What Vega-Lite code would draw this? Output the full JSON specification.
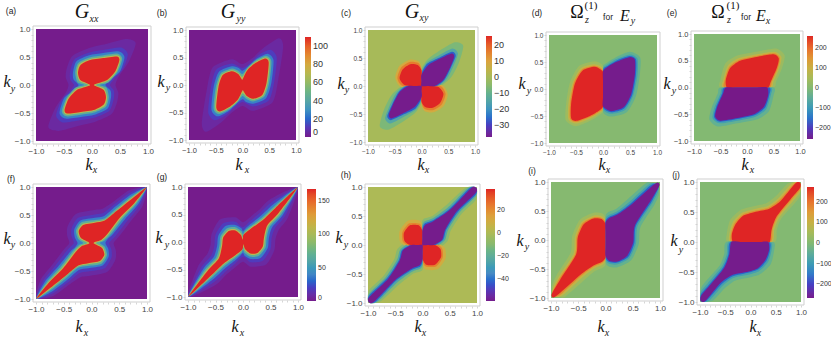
{"$schema":"https://vega.github.io/schema/vega-lite/v6.json","width":831,"height":338,"padding":0,"autosize":{"type":"none"},"background":"white",
"config":{"view":{"stroke":null},"range":{"ramp":["#751c8c","#4340c4","#4a8cc4","#5fa8a0","#86b970","#b4ba52","#dca43e","#e8702e","#df2525"],"heatmap":["#751c8c","#4340c4","#4a8cc4","#5fa8a0","#86b970","#b4ba52","#dca43e","#e8702e","#df2525"]},"axis":{"grid":false,"domain":false,"title":null,"tickCount":20,"tickSize":2,"tickColor":"#c4c4c4","tickWidth":0.7,"labelColor":"#444444","labelFont":"Liberation Sans","labelPadding":1,"labelOverlap":false,"labelBound":false,"labelFlush":false},"legend":{"title":null,"orient":"none","direction":"vertical","gradientStrokeWidth":0,"labelFont":"Liberation Sans","labelColor":"#333333","labelOffset":3}},
"datasets":{"bands":[
{"p":"a","b":"1","v":5,"xy":[[-0.42,0],[-0.47,0.14],[-0.45,0.3],[-0.35,0.52],[-0.05,0.66],[0.25,0.73],[0.6,0.82],[0.78,0.75],[0.66,0.42],[0.47,0.14],[0.42,0],[0.47,-0.14],[0.45,-0.3],[0.35,-0.52],[0.05,-0.66],[-0.25,-0.73],[-0.6,-0.82],[-0.78,-0.75],[-0.66,-0.42],[-0.47,-0.14]]},
{"p":"a","b":"2","v":12,"xy":[[-0.32,0],[-0.39,0.1],[-0.39,0.24],[-0.31,0.46],[-0.05,0.58],[0.22,0.63],[0.52,0.67],[0.64,0.55],[0.55,0.28],[0.39,0.1],[0.32,0],[0.39,-0.1],[0.39,-0.24],[0.31,-0.46],[0.05,-0.58],[-0.22,-0.63],[-0.52,-0.67],[-0.64,-0.55],[-0.55,-0.28],[-0.39,-0.1]]},
{"p":"a","b":"3","v":25,"xy":[[-0.24,0],[-0.33,0.1],[-0.34,0.22],[-0.28,0.42],[-0.05,0.53],[0.2,0.57],[0.48,0.6],[0.58,0.5],[0.5,0.24],[0.33,0.1],[0.24,0],[0.33,-0.1],[0.34,-0.22],[0.28,-0.42],[0.05,-0.53],[-0.2,-0.57],[-0.48,-0.6],[-0.58,-0.5],[-0.5,-0.24],[-0.33,-0.1]]},
{"p":"a","b":"4","v":45,"xy":[[-0.14,0],[-0.26,0.05],[-0.3,0.22],[-0.25,0.39],[-0.05,0.49],[0.2,0.53],[0.46,0.56],[0.54,0.47],[0.46,0.24],[0.3,0.05],[0.14,0],[0.26,-0.05],[0.3,-0.22],[0.25,-0.39],[0.05,-0.49],[-0.2,-0.53],[-0.46,-0.56],[-0.54,-0.47],[-0.46,-0.24],[-0.3,-0.05]]},
{"p":"a","b":"5","v":70,"xy":[[-0.07,0],[-0.22,0.065],[-0.27,0.22],[-0.23,0.37],[-0.05,0.46],[0.2,0.5],[0.45,0.53],[0.51,0.46],[0.44,0.24],[0.28,0.07],[0.07,0],[0.22,-0.065],[0.27,-0.22],[0.23,-0.37],[0.05,-0.46],[-0.2,-0.5],[-0.45,-0.53],[-0.51,-0.46],[-0.44,-0.24],[-0.28,-0.07]]},
{"p":"a","b":"6","v":110,"xy":[[-0.05,0.015],[-0.21,0.09],[-0.25,0.22],[-0.21,0.35],[-0.05,0.44],[0.2,0.48],[0.44,0.51],[0.49,0.45],[0.42,0.25],[0.27,0.09],[0.05,0.015],[0.05,-0.015],[0.21,-0.09],[0.25,-0.22],[0.21,-0.35],[0.05,-0.44],[-0.2,-0.48],[-0.44,-0.51],[-0.49,-0.45],[-0.42,-0.25],[-0.27,-0.09],[-0.05,-0.015]]},
{"p":"b","b":"1","v":5,"xy":[[0,-0.38],[-0.2,-0.5],[-0.4,-0.68],[-0.68,-0.85],[-0.76,-0.7],[-0.67,-0.1],[-0.56,0.32],[-0.2,0.47],[0,0.38],[0.2,0.5],[0.4,0.68],[0.68,0.85],[0.76,0.7],[0.67,0.1],[0.56,-0.32],[0.2,-0.47]]},
{"p":"b","b":"2","v":12,"xy":[[0,-0.31],[-0.15,-0.41],[-0.31,-0.55],[-0.52,-0.64],[-0.64,-0.5],[-0.59,-0.04],[-0.49,0.28],[-0.2,0.39],[0,0.31],[0.15,0.41],[0.31,0.55],[0.52,0.64],[0.64,0.5],[0.59,0.04],[0.49,-0.28],[0.2,-0.39]]},
{"p":"b","b":"3","v":25,"xy":[[0,-0.26],[-0.12,-0.35],[-0.27,-0.48],[-0.47,-0.57],[-0.58,-0.45],[-0.54,-0.04],[-0.44,0.24],[-0.2,0.34],[-0.07,0.31],[0,0.26],[0.12,0.35],[0.27,0.48],[0.47,0.57],[0.58,0.45],[0.54,0.04],[0.44,-0.24],[0.2,-0.34],[0.07,-0.31]]},
{"p":"b","b":"4","v":45,"xy":[[0,-0.2],[-0.1,-0.32],[-0.24,-0.44],[-0.44,-0.53],[-0.54,-0.43],[-0.5,-0.04],[-0.41,0.21],[-0.2,0.3],[-0.08,0.26],[0,0.2],[0.1,0.32],[0.24,0.44],[0.44,0.53],[0.54,0.43],[0.5,0.04],[0.41,-0.21],[0.2,-0.3],[0.08,-0.26]]},
{"p":"b","b":"5","v":70,"xy":[[0,-0.15],[-0.09,-0.29],[-0.23,-0.41],[-0.43,-0.5],[-0.51,-0.42],[-0.47,-0.04],[-0.39,0.19],[-0.2,0.27],[-0.08,0.22],[0,0.15],[0.09,0.29],[0.23,0.41],[0.43,0.5],[0.51,0.42],[0.47,0.04],[0.39,-0.19],[0.2,-0.27],[0.08,-0.22]]},
{"p":"b","b":"6","v":110,"xy":[[-0.01,-0.12],[-0.09,-0.27],[-0.23,-0.39],[-0.42,-0.48],[-0.49,-0.41],[-0.45,-0.04],[-0.37,0.18],[-0.2,0.25],[-0.08,0.2],[-0.01,0.1],[0.01,0.12],[0.09,0.27],[0.23,0.39],[0.42,0.48],[0.49,0.41],[0.45,0.04],[0.37,-0.18],[0.2,-0.25],[0.08,-0.2],[0.01,-0.1]]},
{"p":"c","b":"g1","v":-7,"xy":[[-0.02,0.25],[0.1,0.46],[0.32,0.62],[0.62,0.78],[0.78,0.72],[0.7,0.42],[0.55,0.15],[0.3,-0.03],[0,-0.02]]},
{"p":"c","b":"g2","v":-7,"xy":[[0.02,-0.25],[-0.1,-0.46],[-0.32,-0.62],[-0.62,-0.78],[-0.78,-0.72],[-0.7,-0.42],[-0.55,-0.15],[-0.3,0.03],[0,0.02]]},
{"p":"c","b":"y1","v":8,"xy":[[0,0],[0,0.3],[-0.05,0.44],[-0.22,0.47],[-0.41,0.36],[-0.49,0.15],[-0.38,-0.02]]},
{"p":"c","b":"y2","v":8,"xy":[[0,0],[0,-0.3],[0.05,-0.44],[0.22,-0.47],[0.41,-0.36],[0.49,-0.15],[0.38,0.02]]},
{"p":"c","b":"t1","v":-15,"xy":[[0,0.25],[0.1,0.42],[0.33,0.55],[0.58,0.67],[0.68,0.58],[0.6,0.36],[0.47,0.12],[0.28,-0.02],[0,-0.01]]},
{"p":"c","b":"t2","v":-15,"xy":[[0,-0.25],[-0.1,-0.42],[-0.33,-0.55],[-0.58,-0.67],[-0.68,-0.58],[-0.6,-0.36],[-0.47,-0.12],[-0.28,0.02],[0,0.01]]},
{"p":"c","b":"o1","v":16,"xy":[[0,0],[0,0.3],[-0.06,0.41],[-0.22,0.43],[-0.38,0.33],[-0.45,0.14],[-0.35,0]]},
{"p":"c","b":"o2","v":16,"xy":[[0,0],[0,-0.3],[0.06,-0.41],[0.22,-0.43],[0.38,-0.33],[0.45,-0.14],[0.35,0]]},
{"p":"c","b":"u1","v":-27,"xy":[[0,0.22],[0.11,0.4],[0.34,0.51],[0.57,0.61],[0.64,0.54],[0.55,0.33],[0.43,0.11],[0.26,-0.01],[0,0]]},
{"p":"c","b":"u2","v":-27,"xy":[[0,-0.22],[-0.11,-0.4],[-0.34,-0.51],[-0.57,-0.61],[-0.64,-0.54],[-0.55,-0.33],[-0.43,-0.11],[-0.26,0.01],[0,0]]},
{"p":"c","b":"r1","v":25.6,"xy":[[0,0],[0,0.14],[0,0.28],[-0.07,0.375],[-0.21,0.39],[-0.35,0.3],[-0.41,0.14],[-0.32,0.02],[-0.16,0]]},
{"p":"c","b":"r2","v":25.6,"xy":[[0,0],[0,-0.14],[0,-0.28],[0.07,-0.375],[0.21,-0.39],[0.35,-0.3],[0.41,-0.14],[0.32,-0.02],[0.16,0]]},
{"p":"c","b":"p1","v":-37.5,"xy":[[0,0],[0,0.1],[0,0.2],[0.13,0.375],[0.35,0.49],[0.565,0.58],[0.61,0.52],[0.53,0.32],[0.41,0.11],[0.25,0],[0.12,0]]},
{"p":"c","b":"p2","v":-37.5,"xy":[[0,0],[0,-0.1],[0,-0.2],[-0.13,-0.375],[-0.35,-0.49],[-0.565,-0.58],[-0.61,-0.52],[-0.53,-0.32],[-0.41,-0.11],[-0.25,0],[-0.12,0]]},
{"p":"d","b":"a1","v":35,"xy":[[0,0.42],[-0.15,0.51],[-0.44,0.43],[-0.61,0.13],[-0.68,-0.25],[-0.69,-0.58],[-0.5,-0.69],[-0.24,-0.59],[-0.05,-0.47],[0,-0.4],[0,0]]},
{"p":"d","b":"a2","v":-35,"xy":[[0,-0.42],[0.15,-0.51],[0.44,-0.43],[0.61,-0.13],[0.68,0.25],[0.69,0.58],[0.5,0.69],[0.24,0.59],[0.05,0.47],[0,0.4],[0,0]]},
{"p":"d","b":"b1","v":90,"xy":[[0,0.37],[-0.15,0.46],[-0.41,0.39],[-0.56,0.12],[-0.64,-0.26],[-0.64,-0.56],[-0.5,-0.64],[-0.24,-0.55],[-0.06,-0.44],[0,-0.37],[0,0]]},
{"p":"d","b":"b2","v":-90,"xy":[[0,-0.37],[0.15,-0.46],[0.41,-0.39],[0.56,-0.12],[0.64,0.26],[0.64,0.56],[0.5,0.64],[0.24,0.55],[0.06,0.44],[0,0.37],[0,0]]},
{"p":"d","b":"c1","v":170,"xy":[[0,0.34],[-0.15,0.43],[-0.39,0.36],[-0.54,0.11],[-0.61,-0.27],[-0.61,-0.55],[-0.49,-0.61],[-0.24,-0.52],[-0.07,-0.42],[0,-0.35],[0,0]]},
{"p":"d","b":"c2","v":-170,"xy":[[0,-0.34],[0.15,-0.43],[0.39,-0.36],[0.54,-0.11],[0.61,0.27],[0.61,0.55],[0.49,0.61],[0.24,0.52],[0.07,0.42],[0,0.35],[0,0]]},
{"p":"d","b":"d1","v":260,"xy":[[0,0],[0,0.16],[0,0.32],[-0.15,0.41],[-0.38,0.34],[-0.52,0.1],[-0.59,-0.27],[-0.59,-0.54],[-0.49,-0.59],[-0.24,-0.5],[-0.07,-0.4],[0,-0.33],[0,-0.16]]},
{"p":"d","b":"d2","v":-260,"xy":[[0,0],[0,-0.16],[0,-0.32],[0.15,-0.41],[0.38,-0.34],[0.52,-0.1],[0.59,0.27],[0.59,0.54],[0.49,0.59],[0.24,0.5],[0.07,0.4],[0,0.33],[0,0.16]]},
{"p":"e","b":"a1","v":35,"xy":[[-0.5,0],[-0.5,0.15],[-0.41,0.45],[-0.18,0.6],[0.18,0.67],[0.55,0.73],[0.71,0.6],[0.66,0.36],[0.55,0.11],[0.5,0],[0,-0.02]]},
{"p":"e","b":"a2","v":-35,"xy":[[0.5,0],[0.5,-0.15],[0.41,-0.45],[0.18,-0.6],[-0.18,-0.67],[-0.55,-0.73],[-0.71,-0.6],[-0.66,-0.36],[-0.55,-0.11],[-0.5,0],[0,0.02]]},
{"p":"e","b":"b1","v":90,"xy":[[-0.45,0],[-0.45,0.14],[-0.36,0.41],[-0.15,0.55],[0.18,0.62],[0.52,0.67],[0.65,0.57],[0.61,0.36],[0.5,0.11],[0.45,0],[0,-0.02]]},
{"p":"e","b":"b2","v":-90,"xy":[[0.45,0],[0.45,-0.14],[0.36,-0.41],[0.15,-0.55],[-0.18,-0.62],[-0.52,-0.67],[-0.65,-0.57],[-0.61,-0.36],[-0.5,-0.11],[-0.45,0],[0,0.02]]},
{"p":"e","b":"c1","v":170,"xy":[[-0.42,0],[-0.42,0.14],[-0.34,0.38],[-0.14,0.52],[0.18,0.59],[0.51,0.64],[0.62,0.55],[0.58,0.36],[0.47,0.11],[0.42,0],[0,-0.02]]},
{"p":"e","b":"c2","v":-170,"xy":[[0.42,0],[0.42,-0.14],[0.34,-0.38],[0.14,-0.52],[-0.18,-0.59],[-0.51,-0.64],[-0.62,-0.55],[-0.58,-0.36],[-0.47,-0.11],[-0.42,0],[0,0.02]]},
{"p":"e","b":"d1","v":260,"xy":[[-0.38,0],[-0.4,0.14],[-0.32,0.36],[-0.13,0.5],[0.18,0.57],[0.5,0.62],[0.6,0.54],[0.56,0.36],[0.45,0.11],[0.4,0],[0.2,0],[0,0],[-0.2,0]]},
{"p":"e","b":"d2","v":-260,"xy":[[0.38,0],[0.4,-0.14],[0.32,-0.36],[0.13,-0.5],[-0.18,-0.57],[-0.5,-0.62],[-0.6,-0.54],[-0.56,-0.36],[-0.45,-0.11],[-0.4,0],[-0.2,0],[0,0],[0.2,0]]},
{"p":"f","b":"1","v":8,"xy":[[-0.4,0],[-0.44,0.14],[-0.43,0.3],[-0.28,0.52],[0.05,0.59],[0.2,0.61],[0.4,0.74],[0.68,0.94],[0.99,0.99],[0.92,0.66],[0.7,0.38],[0.5,0.12],[0.4,0],[0.44,-0.14],[0.43,-0.3],[0.28,-0.52],[-0.05,-0.59],[-0.2,-0.61],[-0.4,-0.74],[-0.68,-0.94],[-0.99,-0.99],[-0.92,-0.66],[-0.7,-0.38],[-0.5,-0.12]]},
{"p":"f","b":"2","v":18,"xy":[[-0.32,0],[-0.36,0.12],[-0.36,0.26],[-0.24,0.45],[0.06,0.51],[0.22,0.54],[0.41,0.69],[0.7,0.9],[0.99,0.99],[0.87,0.67],[0.65,0.4],[0.44,0.13],[0.32,0],[0.36,-0.12],[0.36,-0.26],[0.24,-0.45],[-0.06,-0.51],[-0.22,-0.54],[-0.41,-0.69],[-0.7,-0.9],[-0.99,-0.99],[-0.87,-0.67],[-0.65,-0.4],[-0.44,-0.13]]},
{"p":"f","b":"3","v":38,"xy":[[-0.25,0],[-0.3,0.1],[-0.31,0.24],[-0.2,0.4],[0.06,0.45],[0.23,0.48],[0.43,0.65],[0.72,0.87],[0.99,0.99],[0.84,0.69],[0.6,0.42],[0.38,0.15],[0.3,0.08],[0.25,0],[0.3,-0.1],[0.31,-0.24],[0.2,-0.4],[-0.06,-0.45],[-0.23,-0.48],[-0.43,-0.65],[-0.72,-0.87],[-0.99,-0.99],[-0.84,-0.69],[-0.6,-0.42],[-0.38,-0.15],[-0.3,-0.08]]},
{"p":"f","b":"4","v":68,"xy":[[-0.15,0],[-0.24,0.07],[-0.28,0.22],[-0.18,0.37],[0.06,0.41],[0.24,0.44],[0.45,0.62],[0.73,0.84],[0.99,0.99],[0.81,0.7],[0.56,0.43],[0.35,0.16],[0.23,0.04],[0.15,0],[0.24,-0.07],[0.28,-0.22],[0.18,-0.37],[-0.06,-0.41],[-0.24,-0.44],[-0.45,-0.62],[-0.73,-0.84],[-0.99,-0.99],[-0.81,-0.7],[-0.56,-0.43],[-0.35,-0.16],[-0.23,-0.04]]},
{"p":"f","b":"5","v":107,"xy":[[-0.08,0],[-0.21,0.08],[-0.25,0.22],[-0.16,0.34],[0.06,0.38],[0.25,0.42],[0.46,0.59],[0.74,0.82],[0.99,0.99],[0.79,0.71],[0.53,0.44],[0.32,0.17],[0.2,0.05],[0.08,0],[0.21,-0.08],[0.25,-0.22],[0.16,-0.34],[-0.06,-0.38],[-0.25,-0.42],[-0.46,-0.59],[-0.74,-0.82],[-0.99,-0.99],[-0.79,-0.71],[-0.53,-0.44],[-0.32,-0.17],[-0.2,-0.05]]},
{"p":"f","b":"6","v":168,"xy":[[-0.05,0.015],[-0.19,0.09],[-0.23,0.21],[-0.15,0.32],[0.06,0.36],[0.24,0.4],[0.45,0.57],[0.74,0.8],[0.99,0.99],[0.77,0.71],[0.51,0.45],[0.3,0.18],[0.18,0.06],[0.05,0.015],[0.05,-0.015],[0.19,-0.09],[0.23,-0.21],[0.15,-0.32],[-0.06,-0.36],[-0.24,-0.4],[-0.45,-0.57],[-0.74,-0.8],[-0.99,-0.99],[-0.77,-0.71],[-0.51,-0.45],[-0.3,-0.18],[-0.18,-0.06],[-0.05,-0.015]]},
{"p":"g","b":"1","v":8,"xy":[[-0.99,-0.99],[-0.82,-0.45],[-0.65,-0.22],[-0.59,-0.05],[-0.57,0.15],[-0.42,0.41],[-0.14,0.45],[0,0.36],[0.14,0.46],[0.32,0.61],[0.5,0.78],[0.99,0.99],[0.82,0.45],[0.65,0.22],[0.59,0.05],[0.57,-0.15],[0.42,-0.41],[0.14,-0.45],[0,-0.36],[-0.14,-0.46],[-0.32,-0.61],[-0.5,-0.78]]},
{"p":"g","b":"2","v":18,"xy":[[-0.99,-0.99],[-0.77,-0.48],[-0.58,-0.25],[-0.52,-0.07],[-0.5,0.13],[-0.36,0.34],[-0.14,0.37],[0,0.27],[0.14,0.39],[0.32,0.54],[0.53,0.73],[0.99,0.99],[0.77,0.48],[0.58,0.25],[0.52,0.07],[0.5,-0.13],[0.36,-0.34],[0.14,-0.37],[0,-0.27],[-0.14,-0.39],[-0.32,-0.54],[-0.53,-0.73]]},
{"p":"g","b":"3","v":38,"xy":[[-0.99,-0.99],[-0.73,-0.5],[-0.53,-0.27],[-0.47,-0.07],[-0.45,0.11],[-0.32,0.29],[-0.14,0.31],[-0.03,0.25],[0,0.2],[0.05,0.25],[0.14,0.33],[0.33,0.48],[0.56,0.69],[0.99,0.99],[0.73,0.5],[0.53,0.27],[0.47,0.07],[0.45,-0.11],[0.32,-0.29],[0.14,-0.31],[0.03,-0.25],[0,-0.2],[-0.05,-0.25],[-0.14,-0.33],[-0.33,-0.48],[-0.56,-0.69]]},
{"p":"g","b":"4","v":68,"xy":[[-0.99,-0.99],[-0.7,-0.51],[-0.49,-0.28],[-0.43,-0.07],[-0.41,0.1],[-0.29,0.25],[-0.14,0.27],[-0.03,0.2],[0,0.14],[0.03,0.2],[0.14,0.29],[0.34,0.44],[0.58,0.66],[0.99,0.99],[0.7,0.51],[0.49,0.28],[0.43,0.07],[0.41,-0.1],[0.29,-0.25],[0.14,-0.27],[0.03,-0.2],[0,-0.14],[-0.03,-0.2],[-0.14,-0.29],[-0.34,-0.44],[-0.58,-0.66]]},
{"p":"g","b":"5","v":107,"xy":[[-0.99,-0.99],[-0.67,-0.52],[-0.46,-0.29],[-0.4,-0.07],[-0.38,0.09],[-0.27,0.22],[-0.14,0.23],[-0.04,0.16],[0,0.08],[0.02,0.15],[0.14,0.26],[0.35,0.41],[0.6,0.64],[0.99,0.99],[0.67,0.52],[0.46,0.29],[0.4,0.07],[0.38,-0.09],[0.27,-0.22],[0.14,-0.23],[0.04,-0.16],[0,-0.08],[-0.02,-0.15],[-0.14,-0.26],[-0.35,-0.41],[-0.6,-0.64]]},
{"p":"g","b":"6","v":168,"xy":[[-0.99,-0.99],[-0.65,-0.53],[-0.44,-0.3],[-0.38,-0.07],[-0.36,0.08],[-0.26,0.2],[-0.14,0.21],[-0.04,0.13],[-0.005,0.04],[0.01,0.13],[0.14,0.24],[0.35,0.39],[0.59,0.62],[0.99,0.99],[0.65,0.53],[0.44,0.3],[0.38,0.07],[0.36,-0.08],[0.26,-0.2],[0.14,-0.21],[0.04,-0.13],[0.005,-0.04],[-0.01,-0.13],[-0.14,-0.24],[-0.35,-0.39],[-0.59,-0.62]]},
{"p":"h","b":"g1","v":-10,"xy":[[-0.02,0.34],[0.02,0.45],[0.18,0.5],[0.44,0.69],[0.78,0.98],[0.985,0.985],[0.98,0.78],[0.72,0.54],[0.52,0.25],[0.46,0.07],[0.27,-0.06],[0,-0.03]]},
{"p":"h","b":"g2","v":-10,"xy":[[0.02,-0.34],[-0.02,-0.45],[-0.18,-0.5],[-0.44,-0.69],[-0.78,-0.98],[-0.985,-0.985],[-0.98,-0.78],[-0.72,-0.54],[-0.52,-0.25],[-0.46,-0.07],[-0.27,0.06],[0,0.03]]},
{"p":"h","b":"y1","v":10,"xy":[[0,0.3],[-0.05,0.42],[-0.27,0.42],[-0.42,0.24],[-0.41,0.05],[-0.26,-0.03],[0,0]]},
{"p":"h","b":"y2","v":10,"xy":[[0,-0.3],[0.05,-0.42],[0.27,-0.42],[0.42,-0.24],[0.41,-0.05],[0.26,0.03],[0,0]]},
{"p":"h","b":"t1","v":-25,"xy":[[-0.01,0.3],[0.03,0.4],[0.19,0.46],[0.47,0.65],[0.83,0.98],[0.985,0.985],[0.98,0.84],[0.68,0.56],[0.47,0.26],[0.41,0.08],[0.24,-0.03],[0,-0.02]]},
{"p":"h","b":"t2","v":-25,"xy":[[0.01,-0.3],[-0.03,-0.4],[-0.19,-0.46],[-0.47,-0.65],[-0.83,-0.98],[-0.985,-0.985],[-0.98,-0.84],[-0.68,-0.56],[-0.47,-0.26],[-0.41,-0.08],[-0.24,0.03],[0,0.02]]},
{"p":"h","b":"o1","v":22,"xy":[[0,0.27],[-0.06,0.37],[-0.25,0.37],[-0.37,0.22],[-0.36,0.06],[-0.24,-0.02],[0,0]]},
{"p":"h","b":"o2","v":22,"xy":[[0,-0.27],[0.06,-0.37],[0.25,-0.37],[0.37,-0.22],[0.36,-0.06],[0.24,0.02],[0,0]]},
{"p":"h","b":"u1","v":-42,"xy":[[0,0.27],[0.04,0.37],[0.2,0.43],[0.49,0.62],[0.86,0.98],[0.985,0.985],[0.98,0.87],[0.65,0.57],[0.44,0.27],[0.38,0.09],[0.21,-0.01],[0,-0.01]]},
{"p":"h","b":"u2","v":-42,"xy":[[0,-0.27],[-0.04,-0.37],[-0.2,-0.43],[-0.49,-0.62],[-0.86,-0.98],[-0.985,-0.985],[-0.98,-0.87],[-0.65,-0.57],[-0.44,-0.27],[-0.38,-0.09],[-0.21,0.01],[0,0.01]]},
{"p":"h","b":"r1","v":38,"xy":[[0,0],[0,0.12],[0,0.24],[-0.07,0.34],[-0.23,0.34],[-0.34,0.21],[-0.33,0.07],[-0.23,0],[-0.11,0]]},
{"p":"h","b":"r2","v":38,"xy":[[0,0],[0,-0.12],[0,-0.24],[0.07,-0.34],[0.23,-0.34],[0.34,-0.21],[0.33,-0.07],[0.23,0],[0.11,0]]},
{"p":"h","b":"p1","v":-59,"xy":[[0,0],[0,0.12],[0,0.25],[0.05,0.35],[0.2,0.41],[0.51,0.61],[0.89,0.98],[0.985,0.985],[0.98,0.9],[0.63,0.58],[0.42,0.27],[0.36,0.09],[0.2,0],[0.1,0]]},
{"p":"h","b":"p2","v":-59,"xy":[[0,0],[0,-0.12],[0,-0.25],[-0.05,-0.35],[-0.2,-0.41],[-0.51,-0.61],[-0.89,-0.98],[-0.985,-0.985],[-0.98,-0.9],[-0.63,-0.58],[-0.42,-0.27],[-0.36,-0.09],[-0.2,0],[-0.1,0]]},
{"p":"i","b":"a1","v":35,"xy":[[0,0.38],[-0.07,0.46],[-0.22,0.47],[-0.47,0.35],[-0.61,0.07],[-0.64,-0.22],[-0.9,-0.61],[-0.98,-0.82],[-0.83,-0.98],[-0.73,-0.97],[-0.4,-0.7],[-0.2,-0.54],[-0.05,-0.48],[0,-0.4],[0,0]]},
{"p":"i","b":"a2","v":-35,"xy":[[0,-0.38],[0.07,-0.46],[0.22,-0.47],[0.47,-0.35],[0.61,-0.07],[0.64,0.22],[0.9,0.61],[0.98,0.82],[0.83,0.98],[0.73,0.97],[0.4,0.7],[0.2,0.54],[0.05,0.48],[0,0.4],[0,0]]},
{"p":"i","b":"b1","v":90,"xy":[[0,0.33],[-0.07,0.41],[-0.22,0.42],[-0.44,0.31],[-0.56,0.06],[-0.59,-0.24],[-0.87,-0.65],[-0.98,-0.88],[-0.89,-0.98],[-0.78,-0.95],[-0.43,-0.65],[-0.21,-0.49],[-0.06,-0.43],[0,-0.35],[0,0]]},
{"p":"i","b":"b2","v":-90,"xy":[[0,-0.33],[0.07,-0.41],[0.22,-0.42],[0.44,-0.31],[0.56,-0.06],[0.59,0.24],[0.87,0.65],[0.98,0.88],[0.89,0.98],[0.78,0.95],[0.43,0.65],[0.21,0.49],[0.06,0.43],[0,0.35],[0,0]]},
{"p":"i","b":"c1","v":170,"xy":[[0,0.3],[-0.07,0.38],[-0.22,0.39],[-0.42,0.29],[-0.53,0.05],[-0.56,-0.25],[-0.85,-0.67],[-0.98,-0.92],[-0.93,-0.98],[-0.81,-0.93],[-0.45,-0.62],[-0.22,-0.46],[-0.07,-0.4],[0,-0.32],[0,0]]},
{"p":"i","b":"c2","v":-170,"xy":[[0,-0.3],[0.07,-0.38],[0.22,-0.39],[0.42,-0.29],[0.53,-0.05],[0.56,0.25],[0.85,0.67],[0.98,0.92],[0.93,0.98],[0.81,0.93],[0.45,0.62],[0.22,0.46],[0.07,0.4],[0,0.32],[0,0]]},
{"p":"i","b":"d1","v":260,"xy":[[0,0],[0,0.14],[0,0.27],[-0.07,0.36],[-0.22,0.37],[-0.4,0.27],[-0.51,0.04],[-0.54,-0.25],[-0.83,-0.68],[-0.99,-0.94],[-0.95,-0.99],[-0.83,-0.91],[-0.46,-0.6],[-0.22,-0.44],[-0.07,-0.38],[0,-0.3],[0,-0.15]]},
{"p":"i","b":"d2","v":-260,"xy":[[0,0],[0,-0.14],[0,-0.27],[0.07,-0.36],[0.22,-0.37],[0.4,-0.27],[0.51,-0.04],[0.54,0.25],[0.83,0.68],[0.99,0.94],[0.95,0.99],[0.83,0.91],[0.46,0.6],[0.22,0.44],[0.07,0.38],[0,0.3],[0,0.15]]},
{"p":"j","b":"a1","v":35,"xy":[[-0.45,0],[-0.47,0.13],[-0.4,0.37],[-0.18,0.54],[0.13,0.61],[0.32,0.65],[0.52,0.78],[0.75,0.98],[0.985,0.985],[0.98,0.77],[0.88,0.65],[0.61,0.39],[0.52,0.2],[0.48,0],[0,-0.02]]},
{"p":"j","b":"a2","v":-35,"xy":[[0.45,0],[0.47,-0.13],[0.4,-0.37],[0.18,-0.54],[-0.13,-0.61],[-0.32,-0.65],[-0.52,-0.78],[-0.75,-0.98],[-0.985,-0.985],[-0.98,-0.77],[-0.88,-0.65],[-0.61,-0.39],[-0.52,-0.2],[-0.48,0],[0,0.02]]},
{"p":"j","b":"b1","v":90,"xy":[[-0.4,0],[-0.42,0.125],[-0.35,0.33],[-0.16,0.49],[0.13,0.56],[0.34,0.6],[0.55,0.73],[0.82,0.98],[0.985,0.985],[0.98,0.83],[0.84,0.68],[0.57,0.41],[0.47,0.2],[0.43,0],[0,-0.02]]},
{"p":"j","b":"b2","v":-90,"xy":[[0.4,0],[0.42,-0.125],[0.35,-0.33],[0.16,-0.49],[-0.13,-0.56],[-0.34,-0.6],[-0.55,-0.73],[-0.82,-0.98],[-0.985,-0.985],[-0.98,-0.83],[-0.84,-0.68],[-0.57,-0.41],[-0.47,-0.2],[-0.43,0],[0,0.02]]},
{"p":"j","b":"c1","v":170,"xy":[[-0.37,0],[-0.39,0.125],[-0.32,0.31],[-0.15,0.46],[0.13,0.53],[0.35,0.57],[0.57,0.7],[0.87,0.98],[0.985,0.985],[0.98,0.87],[0.81,0.7],[0.54,0.42],[0.44,0.21],[0.4,0],[0,-0.02]]},
{"p":"j","b":"c2","v":-170,"xy":[[0.37,0],[0.39,-0.125],[0.32,-0.31],[0.15,-0.46],[-0.13,-0.53],[-0.35,-0.57],[-0.57,-0.7],[-0.87,-0.98],[-0.985,-0.985],[-0.98,-0.87],[-0.81,-0.7],[-0.54,-0.42],[-0.44,-0.21],[-0.4,0],[0,0.02]]},
{"p":"j","b":"d1","v":272,"xy":[[-0.35,0],[-0.37,0.125],[-0.3,0.29],[-0.14,0.44],[0.13,0.51],[0.36,0.55],[0.59,0.68],[0.89,0.98],[0.985,0.985],[0.98,0.9],[0.79,0.71],[0.52,0.43],[0.42,0.21],[0.38,0],[0.2,0],[0,0],[-0.18,0]]},
{"p":"j","b":"d2","v":-267,"xy":[[0.35,0],[0.37,-0.125],[0.3,-0.29],[0.14,-0.44],[-0.13,-0.51],[-0.36,-0.55],[-0.59,-0.68],[-0.89,-0.98],[-0.985,-0.985],[-0.98,-0.9],[-0.79,-0.71],[-0.52,-0.43],[-0.42,-0.21],[-0.38,0],[-0.2,0],[0,0],[0.18,0]]}
],
"plots":[{"x":36,"x2":148,"y":29,"y2":141,"n":0},{"x":189,"x2":296,"y":30,"y2":140,"n":0},{"x":368,"x2":475,"y":30,"y2":142,"n":0.594},{"x":549,"x2":657,"y":35,"y2":143,"n":0.5},{"x":694,"x2":800,"y":34,"y2":141,"n":0.495},{"x":36,"x2":147,"y":187,"y2":299,"n":0},{"x":188,"x2":298,"y":187,"y2":297,"n":0},{"x":368,"x2":477,"y":187,"y2":303,"n":0.608},{"x":551,"x2":660,"y":182,"y2":298,"n":0.5},{"x":700,"x2":801,"y":182,"y2":302,"n":0.495}],
"frames":[{"x":33,"x2":151,"y":26,"y2":144},{"x":186,"x2":299,"y":27,"y2":143},{"x":365,"x2":478,"y":27,"y2":145},{"x":546,"x2":660,"y":32,"y2":146},{"x":691,"x2":803,"y":31,"y2":144},{"x":33,"x2":150,"y":184,"y2":302},{"x":185,"x2":301,"y":184,"y2":300},{"x":365,"x2":480,"y":184,"y2":306},{"x":548,"x2":663,"y":179,"y2":301},{"x":697,"x2":804,"y":179,"y2":305}],
"texts":[
{"s":"G","t":"G","x":82,"y":12},{"s":"G","t":"G","x":228,"y":12},{"s":"G","t":"G","x":412,"y":12},
{"s":"sub","t":"xx","x":94,"y":19},{"s":"sub","t":"yy","x":241,"y":19},{"s":"sub","t":"xy","x":424,"y":18},
{"s":"om","t":"Ω","x":577,"y":13},{"s":"om","t":"Ω","x":718,"y":13},
{"s":"sub","t":"z","x":587,"y":20},{"s":"sub","t":"z","x":729,"y":20},
{"s":"sup","t":"(1)","x":591,"y":6},{"s":"sup","t":"(1)","x":733,"y":6},
{"s":"lab","t":"for","x":608,"y":17},{"s":"lab","t":"for","x":746,"y":17},
{"s":"E","t":"E","x":625,"y":16},{"s":"E","t":"E","x":761,"y":16},
{"s":"sub","t":"y","x":633,"y":21},{"s":"sub","t":"x","x":768,"y":21},
{"s":"lab","t":"(a)","x":11,"y":11},{"s":"lab","t":"(b)","x":162,"y":13},{"s":"lab","t":"(c)","x":346,"y":13},{"s":"lab","t":"(d)","x":537,"y":13},{"s":"lab","t":"(e)","x":672,"y":13},{"s":"lab","t":"(f)","x":11,"y":179},{"s":"lab","t":"(g)","x":162,"y":177},{"s":"lab","t":"(h)","x":346,"y":175},{"s":"lab","t":"(i)","x":532,"y":171},{"s":"lab","t":"(j)","x":676,"y":175},
{"s":"k","t":"k","x":7,"y":82},{"s":"sub","t":"y","x":13,"y":89},{"s":"k","t":"k","x":89,"y":165},{"s":"sub","t":"x","x":95,"y":170},
{"s":"k","t":"k","x":161,"y":82},{"s":"sub","t":"y","x":168,"y":88},{"s":"k","t":"k","x":239,"y":165},{"s":"sub","t":"x","x":247,"y":170},
{"s":"k","t":"k","x":341,"y":84},{"s":"sub","t":"y","x":347,"y":90},{"s":"k","t":"k","x":421,"y":165},{"s":"sub","t":"x","x":427,"y":170},
{"s":"k","t":"k","x":522,"y":84},{"s":"sub","t":"y","x":529,"y":91},{"s":"k","t":"k","x":602,"y":165},{"s":"sub","t":"x","x":608,"y":170},
{"s":"k","t":"k","x":667,"y":84},{"s":"sub","t":"y","x":674,"y":91},{"s":"k","t":"k","x":745,"y":165},{"s":"sub","t":"x","x":752,"y":170},
{"s":"k","t":"k","x":7,"y":239},{"s":"sub","t":"y","x":13,"y":245},{"s":"k","t":"k","x":79,"y":327},{"s":"sub","t":"x","x":86,"y":333},
{"s":"k","t":"k","x":159,"y":238},{"s":"sub","t":"y","x":167,"y":245},{"s":"k","t":"k","x":235,"y":327},{"s":"sub","t":"x","x":242,"y":333},
{"s":"k","t":"k","x":339,"y":238},{"s":"sub","t":"y","x":346,"y":245},{"s":"k","t":"k","x":418,"y":327},{"s":"sub","t":"x","x":424,"y":333},
{"s":"k","t":"k","x":520,"y":241},{"s":"sub","t":"y","x":527,"y":247},{"s":"k","t":"k","x":601,"y":327},{"s":"sub","t":"x","x":607,"y":333},
{"s":"k","t":"k","x":674,"y":241},{"s":"sub","t":"y","x":681,"y":250},{"s":"k","t":"k","x":753,"y":327},{"s":"sub","t":"x","x":759,"y":333}
]},
"resolve":{"scale":{"x":"independent","y":"independent","fill":"independent"},"axis":{"x":"independent","y":"independent"},"legend":{"fill":"independent"}},
"layer":[
{"data":{"name":"frames"},"mark":{"type":"rect","fill":null,"stroke":"#cfcfcf","strokeWidth":1},"encoding":{"x":{"field":"x","type":"quantitative","scale":{"domain":[0,831],"range":[0,831]},"axis":null},"x2":{"field":"x2"},"y":{"field":"y","type":"quantitative","scale":{"domain":[0,338],"range":[0,338]},"axis":null},"y2":{"field":"y2"}}},
{"data":{"name":"plots"},"mark":{"type":"rect"},"encoding":{"x":{"field":"x","type":"quantitative","scale":{"domain":[0,831],"range":[0,831]},"axis":null},"x2":{"field":"x2"},"y":{"field":"y","type":"quantitative","scale":{"domain":[0,338],"range":[0,338]},"axis":null},"y2":{"field":"y2"},"fill":{"field":"n","type":"quantitative","scale":{"domain":[0,1]},"legend":null}}},
{"data":{"name":"bands"},"transform":[{"filter":"datum.p=='a'"},{"flatten":["xy"]}],"mark":{"type":"line","interpolate":"cardinal-closed","tension":0.3,"order":false,"stroke":null,"strokeWidth":0},"encoding":{"detail":{"field":"b"},"x":{"field":"xy[0]","type":"quantitative","scale":{"domain":[-1,1],"range":[36,148]},"axis":{"orient":"bottom","offset":-194,"labelFontSize":8,"labelExpr":"round(datum.value*10)%5==0?format(datum.value,'.1f'):''"}},"y":{"field":"xy[1]","type":"quantitative","scale":{"domain":[-1,1],"range":[141,29]},"axis":{"orient":"left","offset":-33,"labelFontSize":8,"labelExpr":"round(datum.value*10)%5==0?format(datum.value,'.1f'):''"}},"fill":{"field":"v","type":"quantitative","scale":{"domain":[0,110]},"legend":null}}},
{"data":{"name":"bands"},"transform":[{"filter":"datum.p=='b'"},{"flatten":["xy"]}],"mark":{"type":"line","interpolate":"cardinal-closed","tension":0.3,"order":false,"stroke":null,"strokeWidth":0},"encoding":{"detail":{"field":"b"},"x":{"field":"xy[0]","type":"quantitative","scale":{"domain":[-1,1],"range":[189,296]},"axis":{"orient":"bottom","offset":-195,"labelFontSize":7.5,"labelExpr":"round(datum.value*10)%5==0?format(datum.value,'.1f'):''"}},"y":{"field":"xy[1]","type":"quantitative","scale":{"domain":[-1,1],"range":[140,30]},"axis":{"orient":"left","offset":-186,"labelFontSize":7.5,"labelExpr":"round(datum.value*10)%5==0?format(datum.value,'.1f'):''"}},"fill":{"field":"v","type":"quantitative","scale":{"domain":[0,110]},"legend":{"legendX":305,"legendY":37,"gradientLength":100,"gradientThickness":6,"values":[0,20,40,60,80,100],"labelFontSize":9}}}},
{"data":{"name":"bands"},"transform":[{"filter":"datum.p=='c'"},{"flatten":["xy"]}],"mark":{"type":"line","interpolate":"cardinal-closed","tension":0.3,"order":false,"stroke":null,"strokeWidth":0},"encoding":{"detail":{"field":"b"},"x":{"field":"xy[0]","type":"quantitative","scale":{"domain":[-1,1],"range":[368,475]},"axis":{"orient":"bottom","offset":-193,"labelFontSize":6.5,"labelExpr":"round(datum.value*10)%5==0?format(datum.value,'.1f'):''"}},"y":{"field":"xy[1]","type":"quantitative","scale":{"domain":[-1,1],"range":[142,30]},"axis":{"orient":"left","offset":-365,"labelFontSize":6.5,"labelExpr":"round(datum.value*10)%5==0?format(datum.value,'.1f'):''"}},"fill":{"field":"v","type":"quantitative","scale":{"domain":[-37.5,25.6]},"legend":{"legendX":486,"legendY":36,"gradientLength":101,"gradientThickness":6,"values":[-30,-20,-10,0,10,20],"labelFontSize":9}}}},
{"data":{"name":"bands"},"transform":[{"filter":"datum.p=='d'"},{"flatten":["xy"]}],"mark":{"type":"line","interpolate":"cardinal-closed","tension":0.3,"order":false,"stroke":null,"strokeWidth":0},"encoding":{"detail":{"field":"b"},"x":{"field":"xy[0]","type":"quantitative","scale":{"domain":[-1,1],"range":[549,657]},"axis":{"orient":"bottom","offset":-192,"labelFontSize":6.5,"labelExpr":"round(datum.value*10)%5==0?format(datum.value,'.1f'):''"}},"y":{"field":"xy[1]","type":"quantitative","scale":{"domain":[-1,1],"range":[143,35]},"axis":{"orient":"left","offset":-546,"labelFontSize":6.5,"labelExpr":"round(datum.value*10)%5==0?format(datum.value,'.1f'):''"}},"fill":{"field":"v","type":"quantitative","scale":{"domain":[-260,260]},"legend":null}}},
{"data":{"name":"bands"},"transform":[{"filter":"datum.p=='e'"},{"flatten":["xy"]}],"mark":{"type":"line","interpolate":"cardinal-closed","tension":0.3,"order":false,"stroke":null,"strokeWidth":0},"encoding":{"detail":{"field":"b"},"x":{"field":"xy[0]","type":"quantitative","scale":{"domain":[-1,1],"range":[694,800]},"axis":{"orient":"bottom","offset":-194,"labelFontSize":7.5,"labelExpr":"round(datum.value*10)%5==0?format(datum.value,'.1f'):''"}},"y":{"field":"xy[1]","type":"quantitative","scale":{"domain":[-1,1],"range":[141,34]},"axis":{"orient":"left","offset":-691,"labelFontSize":7.5,"labelExpr":"round(datum.value*10)%5==0?format(datum.value,'.1f'):''"}},"fill":{"field":"v","type":"quantitative","scale":{"domain":[-255,260]},"legend":{"legendX":807,"legendY":36,"gradientLength":103,"gradientThickness":6,"values":[-200,-100,0,100,200],"labelFontSize":7}}}},
{"data":{"name":"bands"},"transform":[{"filter":"datum.p=='f'"},{"flatten":["xy"]}],"mark":{"type":"line","interpolate":"cardinal-closed","tension":0.3,"order":false,"stroke":null,"strokeWidth":0},"encoding":{"detail":{"field":"b"},"x":{"field":"xy[0]","type":"quantitative","scale":{"domain":[-1,1],"range":[36,147]},"axis":{"orient":"bottom","offset":-36,"labelFontSize":8,"labelExpr":"round(datum.value*10)%5==0?format(datum.value,'.1f'):''"}},"y":{"field":"xy[1]","type":"quantitative","scale":{"domain":[-1,1],"range":[299,187]},"axis":{"orient":"left","offset":-33,"labelFontSize":8,"labelExpr":"round(datum.value*10)%5==0?format(datum.value,'.1f'):''"}},"fill":{"field":"v","type":"quantitative","scale":{"domain":[0,168]},"legend":null}}},
{"data":{"name":"bands"},"transform":[{"filter":"datum.p=='g'"},{"flatten":["xy"]}],"mark":{"type":"line","interpolate":"cardinal-closed","tension":0.3,"order":false,"stroke":null,"strokeWidth":0},"encoding":{"detail":{"field":"b"},"x":{"field":"xy[0]","type":"quantitative","scale":{"domain":[-1,1],"range":[188,298]},"axis":{"orient":"bottom","offset":-38,"labelFontSize":8,"labelExpr":"round(datum.value*10)%5==0?format(datum.value,'.1f'):''"}},"y":{"field":"xy[1]","type":"quantitative","scale":{"domain":[-1,1],"range":[297,187]},"axis":{"orient":"left","offset":-185,"labelFontSize":8,"labelExpr":"round(datum.value*10)%5==0?format(datum.value,'.1f'):''"}},"fill":{"field":"v","type":"quantitative","scale":{"domain":[0,168]},"legend":{"legendX":307,"legendY":189,"gradientLength":112,"gradientThickness":9,"values":[0,50,100,150],"labelFontSize":7}}}},
{"data":{"name":"bands"},"transform":[{"filter":"datum.p=='h'"},{"flatten":["xy"]}],"mark":{"type":"line","interpolate":"cardinal-closed","tension":0.3,"order":false,"stroke":null,"strokeWidth":0},"encoding":{"detail":{"field":"b"},"x":{"field":"xy[0]","type":"quantitative","scale":{"domain":[-1,1],"range":[368,477]},"axis":{"orient":"bottom","offset":-32,"labelFontSize":8,"labelExpr":"round(datum.value*10)%5==0?format(datum.value,'.1f'):''"}},"y":{"field":"xy[1]","type":"quantitative","scale":{"domain":[-1,1],"range":[303,187]},"axis":{"orient":"left","offset":-365,"labelFontSize":8,"labelExpr":"round(datum.value*10)%5==0?format(datum.value,'.1f'):''"}},"fill":{"field":"v","type":"quantitative","scale":{"domain":[-59,38]},"legend":{"legendX":486,"legendY":189,"gradientLength":112,"gradientThickness":9,"values":[-40,-20,0,20],"labelFontSize":7}}}},
{"data":{"name":"bands"},"transform":[{"filter":"datum.p=='i'"},{"flatten":["xy"]}],"mark":{"type":"line","interpolate":"cardinal-closed","tension":0.3,"order":false,"stroke":null,"strokeWidth":0},"encoding":{"detail":{"field":"b"},"x":{"field":"xy[0]","type":"quantitative","scale":{"domain":[-1,1],"range":[551,660]},"axis":{"orient":"bottom","offset":-37,"labelFontSize":8,"labelExpr":"round(datum.value*10)%5==0?format(datum.value,'.1f'):''"}},"y":{"field":"xy[1]","type":"quantitative","scale":{"domain":[-1,1],"range":[298,182]},"axis":{"orient":"left","offset":-548,"labelFontSize":8,"labelExpr":"round(datum.value*10)%5==0?format(datum.value,'.1f'):''"}},"fill":{"field":"v","type":"quantitative","scale":{"domain":[-260,260]},"legend":null}}},
{"data":{"name":"bands"},"transform":[{"filter":"datum.p=='j'"},{"flatten":["xy"]}],"mark":{"type":"line","interpolate":"cardinal-closed","tension":0.3,"order":false,"stroke":null,"strokeWidth":0},"encoding":{"detail":{"field":"b"},"x":{"field":"xy[0]","type":"quantitative","scale":{"domain":[-1,1],"range":[700,801]},"axis":{"orient":"bottom","offset":-33,"labelFontSize":8,"labelExpr":"round(datum.value*10)%5==0?format(datum.value,'.1f'):''"}},"y":{"field":"xy[1]","type":"quantitative","scale":{"domain":[-1,1],"range":[302,182]},"axis":{"orient":"left","offset":-697,"labelFontSize":8,"labelExpr":"round(datum.value*10)%5==0?format(datum.value,'.1f'):''"}},"fill":{"field":"v","type":"quantitative","scale":{"domain":[-267,272]},"legend":{"legendX":807,"legendY":187,"gradientLength":111,"gradientThickness":7,"values":[-200,-100,0,100,200],"labelFontSize":7}}}},
{"data":{"name":"texts"},"encoding":{"x":{"field":"x","type":"quantitative","scale":{"domain":[0,831],"range":[0,831]},"axis":null},"y":{"field":"y","type":"quantitative","scale":{"domain":[0,338],"range":[0,338]},"axis":null},"text":{"field":"t"}},
"layer":[
{"transform":[{"filter":"datum.s=='G'"}],"mark":{"type":"text","font":"Liberation Serif","fontStyle":"italic","fontSize":20,"color":"#111111"}},
{"transform":[{"filter":"datum.s=='k'"}],"mark":{"type":"text","font":"Liberation Serif","fontStyle":"italic","fontSize":16,"color":"#111111"}},
{"transform":[{"filter":"datum.s=='E'"}],"mark":{"type":"text","font":"Liberation Serif","fontStyle":"italic","fontSize":16,"color":"#111111"}},
{"transform":[{"filter":"datum.s=='sub'"}],"mark":{"type":"text","font":"Liberation Serif","fontStyle":"italic","fontSize":10,"color":"#222222"}},
{"transform":[{"filter":"datum.s=='om'"}],"mark":{"type":"text","font":"Liberation Serif","fontSize":18,"color":"#111111"}},
{"transform":[{"filter":"datum.s=='sup'"}],"mark":{"type":"text","font":"Liberation Serif","fontSize":11,"color":"#111111"}},
{"transform":[{"filter":"datum.s=='lab'"}],"mark":{"type":"text","font":"Liberation Sans","fontSize":8.5,"color":"#222222"}}
]}
]}
